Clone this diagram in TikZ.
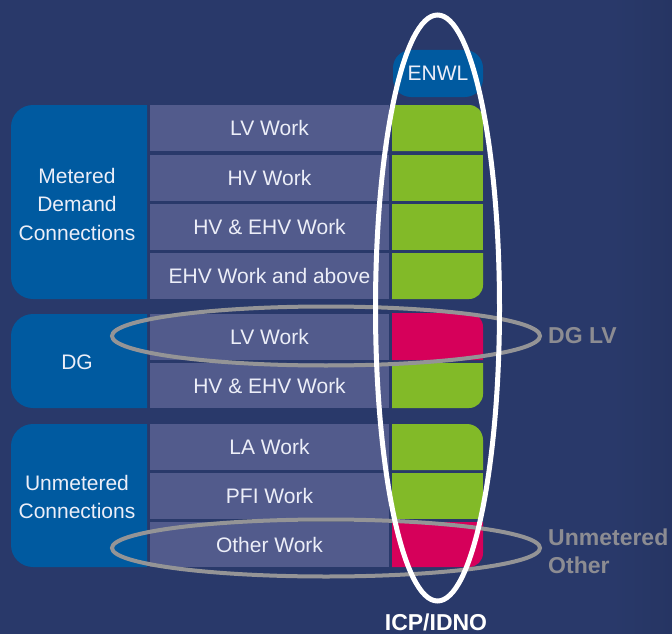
\documentclass[tikz,border=0pt]{standalone}
\usepackage{fontspec}
\setmainfont{Liberation Sans}
\definecolor{bg}{RGB}{41,57,106}
\definecolor{bgedge}{RGB}{38,53,99}
\definecolor{grpblue}{RGB}{0,90,160}
\definecolor{rowgrey}{RGB}{82,91,140}
\definecolor{cellgreen}{RGB}{130,186,40}
\definecolor{cellpink}{RGB}{214,0,90}
\definecolor{ringgrey}{RGB}{148,148,150}
\definecolor{softwhite}{RGB}{236,238,248}
\definecolor{notegrey}{RGB}{140,140,146}

\begin{document}
\begin{tikzpicture}[x=1pt,y=-1pt,
  rowbox/.style={fill=rowgrey, minimum width=239pt, minimum height=46pt,
    inner sep=0pt, text=softwhite, text height=15pt, text depth=0pt,
    font=\fontsize{21}{28}\selectfont},
  grouplabel/.style={text=softwhite, align=center, inner sep=0pt,
    font=\fontsize{21}{28.5}\selectfont},
  note/.style={text=notegrey, align=left, inner sep=0pt,
    font=\fontsize{23}{28}\selectfont\bfseries},
  ring/.style={draw=ringgrey, line width=4pt},
  bigring/.style={draw=white, line width=5pt}]

% backdrop
\fill[bg] (0,0) rectangle (672,634);
\shade[left color=bg, right color=bgedge] (612,0) rectangle (672,634);
\useasboundingbox (0,0) rectangle (672,634);

% group boxes, rounded on the left side only
\fill[grpblue] (147,105) -- (33,105) arc[start angle=-90, end angle=-180, radius=22]
  -- (11,277) arc[start angle=180, end angle=90, radius=22] -- (147,299) -- cycle;
\fill[grpblue] (147,314) -- (33,314) arc[start angle=-90, end angle=-180, radius=22]
  -- (11,386) arc[start angle=180, end angle=90, radius=22] -- (147,408) -- cycle;
\fill[grpblue] (147,424) -- (33,424) arc[start angle=-90, end angle=-180, radius=22]
  -- (11,545) arc[start angle=180, end angle=90, radius=22] -- (147,567) -- cycle;

\node[grouplabel] (gmd) at (77,204) {Metered\\Demand\\Connections};
\node[grouplabel] (gdg) at (77,362) {DG};
\node[grouplabel] (gum) at (77,497) {Unmetered\\Connections};

% work rows
\node[rowbox] (r1) at (269.5,128) {LV Work};
\node[rowbox] (r2) at (269.5,178) {HV Work};
\node[rowbox] (r3) at (269.5,227) {HV \& EHV Work};
\node[rowbox] (r4) at (269.5,276) {EHV Work and above};
\node[rowbox] (r5) at (269.5,337) {LV Work};
\node[rowbox, minimum height=45pt] (r6) at (269.5,385.5) {HV \& EHV Work};
\node[rowbox] (r7) at (269.5,447) {LA Work};
\node[rowbox] (r8) at (269.5,496) {PFI Work};
\node[rowbox, minimum height=45pt] (r9) at (269.5,544.5) {Other Work};

% ENWL column header
\node[fill=grpblue, rounded corners=18pt, minimum width=90pt, minimum height=47pt,
  inner sep=0pt, text=softwhite, text height=15pt, text depth=0pt,
  font=\fontsize{21}{28}\selectfont] (enwl) at (438,73.5) {ENWL};

% ENWL cells: metered demand
\fill[cellgreen] (392,151) -- (392,105) -- (469,105)
  arc[start angle=-90, end angle=0, radius=14] -- (483,151) -- cycle;
\fill[cellgreen] (392,155) rectangle (483,201);
\fill[cellgreen] (392,204) rectangle (483,250);
\fill[cellgreen] (392,253) -- (483,253) -- (483,285)
  arc[start angle=0, end angle=90, radius=14] -- (392,299) -- cycle;
% ENWL cells: DG
\fill[cellpink] (392,360) -- (392,313) -- (469,313)
  arc[start angle=-90, end angle=0, radius=14] -- (483,360) -- cycle;
\fill[cellgreen] (392,363) -- (483,363) -- (483,394)
  arc[start angle=0, end angle=90, radius=14] -- (392,408) -- cycle;
% ENWL cells: unmetered
\fill[cellgreen] (392,470) -- (392,424) -- (467,424)
  arc[start angle=-90, end angle=0, radius=16] -- (483,470) -- cycle;
\fill[cellgreen] (392,473) rectangle (483,519);
\fill[cellpink] (392,522) -- (483,522) -- (483,553)
  arc[start angle=0, end angle=90, radius=14] -- (392,567) -- cycle;

% highlight rings
\draw[ring] (326,336) ellipse [x radius=214, y radius=29.5];
\draw[ring] (326,548) ellipse [x radius=214, y radius=28.5];
\draw[bigring] (437.5,308) ellipse [x radius=62, y radius=293];

% ring captions
\node[note, anchor=base west] (dglv) at (548,343) {DG LV};
\node[note, anchor=base west] (umo1) at (548,545) {Unmetered};
\node[note, anchor=base west] (umo2) at (548,573) {Other};
\node[note, text=white, anchor=base] (icp) at (436,630) {ICP/IDNO};
\end{tikzpicture}
\end{document}
